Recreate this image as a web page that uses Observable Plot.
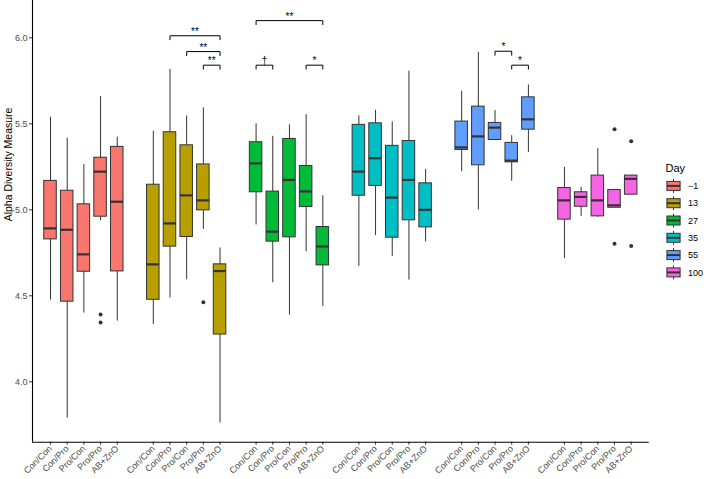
<!DOCTYPE html>
<html><head><meta charset="utf-8">
<script src="https://cdn.jsdelivr.net/npm/d3@7"></script>
<script src="https://cdn.jsdelivr.net/npm/@observablehq/plot@0.6"></script>
<style>
body{margin:0;background:#fff;font-family:"Liberation Sans",Arial,sans-serif;}
#wrap{position:relative;width:709px;height:479px;}
#wrap svg.overlay{position:absolute;left:0;top:0;pointer-events:none;}
</style></head><body><div id="wrap"></div>
<script>
const days = ["-1","13","27","35","55","100"];
const dayLabels = ["\u22121","13","27","35","55","100"];
const treatments = ["Con/Con","Con/Pro","Pro/Con","Pro/Pro","AB+ZnO"];
const colors = ["#F8766D","#B79F00","#00BA38","#00BFC4","#619CFF","#F564E3"];
// per box, day-major order (5 treatments per day)
const whiskerLow = [4.475,3.789,4.400,4.937,4.353, 4.333,4.487,4.594,4.886,3.761, 4.912,4.576,4.388,4.756,4.438, 4.671,4.850,4.729,4.592,4.813, 5.222,4.999,5.406,5.166,5.334, 4.717,4.962,4.956,5.012,5.088];
const q1 =         [4.828,4.466,4.640,4.960,4.642, 4.477,4.786,4.842,4.997,4.275, 5.102,4.815,4.840,5.017,4.677, 5.082,5.139,4.838,4.939,4.898, 5.348,5.259,5.406,5.276,5.466, 4.943,5.018,4.962,5.012,5.088];
const median =     [4.892,4.884,4.741,5.222,5.047, 4.683,4.921,5.084,5.055,4.644, 5.270,4.873,5.174,5.107,4.787, 5.222,5.300,5.071,5.174,5.000, 5.363,5.427,5.478,5.286,5.526, 5.055,5.075,5.055,5.026,5.180];
const q3 =         [5.168,5.111,5.032,5.303,5.366, 5.146,5.451,5.375,5.264,4.683, 5.393,5.106,5.412,5.255,4.900, 5.494,5.503,5.372,5.400,5.154, 5.513,5.600,5.505,5.389,5.654, 5.127,5.102,5.199,5.115,5.199];
const whiskerHigh =[5.538,5.416,5.263,5.658,5.422, 5.457,5.816,5.546,5.593,4.778, 5.500,5.427,5.494,5.554,5.082, 5.546,5.579,5.511,5.806,5.234, 5.689,5.916,5.577,5.431,5.726, 5.247,5.131,5.356,5.115,5.199];
const outlierDay = ["-1","-1","13","100","100","100","100"];
const outlierTrt = ["Pro/Pro","Pro/Pro","Pro/Pro","Pro/Pro","Pro/Pro","AB+ZnO","AB+ZnO"];
const outlierValue = [4.392,4.345,4.462,5.468,4.803,5.398,4.790];
const sigDay = ["13","13","13","27","27","27","55","55"];
const sigFrom = ["Con/Pro","Pro/Con","Pro/Pro","Con/Con","Con/Con","Pro/Pro","Pro/Con","Pro/Pro"];
const sigTo = ["AB+ZnO","AB+ZnO","AB+ZnO","AB+ZnO","Con/Pro","AB+ZnO","Pro/Pro","AB+ZnO"];
const sigY = [6.012,5.920,5.841,6.100,5.841,5.841,5.922,5.841];
const sigLabel = ["**","**","**","**","\u2020","*","*","*"];
const yTicks = [4.0,4.5,5.0,5.5,6.0];

const GAP = 6.161, HALF = 0.375, TIP = 0.023;
const pos = (day, trt) => days.indexOf(day) * GAP + treatments.indexOf(trt);
const boxes = [];
days.forEach((d, di) => treatments.forEach((t, ti) => {
  const i = di * 5 + ti;
  boxes.push({day: d, trt: t, x: pos(d, t), lo: whiskerLow[i], q1: q1[i], med: median[i], q3: q3[i], hi: whiskerHigh[i]});
}));
const outliers = outlierValue.map((v, i) => ({x: pos(outlierDay[i], outlierTrt[i]), y: v}));
const brackets = sigY.map((y, i) => ({x1: pos(sigDay[i], sigFrom[i]), x2: pos(sigDay[i], sigTo[i]), y, label: sigLabel[i], id: i}));
const bracketPts = brackets.flatMap(b => [
  {id: b.id, x: b.x1, y: b.y - TIP}, {id: b.id, x: b.x1, y: b.y},
  {id: b.id, x: b.x2, y: b.y}, {id: b.id, x: b.x2, y: b.y - TIP}]);
const xTicks = boxes.map(b => b.x);
const xLabel = v => { const di = Math.floor((v + 0.5) / GAP); return treatments[Math.round(v - di * GAP)]; };
const xDomain = [-1.08, 5 * GAP + 4 + 1.08];
const yDomain = [3.649, 6.217];

const chart = Plot.plot({
  width: 709, height: 479,
  marginLeft: 32, marginRight: 60.3, marginTop: 0, marginBottom: 37.3,
  style: {fontFamily: "'Liberation Sans', Arial, sans-serif", fontSize: "9px", background: "#fff"},
  x: {domain: xDomain},
  y: {domain: yDomain},
  color: {domain: days, range: colors},
  marks: [
    Plot.ruleX(boxes, {x: "x", y1: "lo", y2: "hi", stroke: "#333", strokeWidth: 1}),
    Plot.rect(boxes, {x1: d => d.x - HALF, x2: d => d.x + HALF, y1: "q1", y2: "q3", fill: "day", stroke: "#333", strokeWidth: 1}),
    Plot.ruleY(boxes, {x1: d => d.x - HALF, x2: d => d.x + HALF, y: "med", stroke: "#333", strokeWidth: 2.2}),
    Plot.dot(outliers, {x: "x", y: "y", r: 2, fill: "#333", stroke: null}),
    Plot.line(bracketPts, {x: "x", y: "y", z: "id", stroke: "#000", strokeWidth: 1}),
    Plot.text(brackets, {x: d => (d.x1 + d.x2) / 2, y: "y", text: "label", lineAnchor: "bottom", dy: -1, fontSize: 10, fill: "#000"}),
    Plot.axisY({ticks: yTicks, tickFormat: d3.format(".1f"), tickSize: 3, tickPadding: 2, fontSize: 9, fill: "#4D4D4D", stroke: "#333", label: null}),
    Plot.axisX({ticks: xTicks, tickFormat: xLabel, tickRotate: -45, tickSize: 3, tickPadding: 2, fontSize: 9, fill: "#4D4D4D", stroke: "#333", label: null}),
    Plot.ruleX([xDomain[0]], {stroke: "#000", strokeWidth: 1.1}),
    Plot.ruleY([yDomain[0]], {stroke: "#000", strokeWidth: 1.1}),
    Plot.text(["Alpha Diversity Measure"], {frameAnchor: "left", rotate: -90, dx: -24, fontSize: 10.5, fill: "#000"})
  ]
});
const wrap = document.getElementById("wrap");
wrap.appendChild(chart);

// legend
const svg = d3.select(wrap).append("svg").attr("class", "overlay").attr("width", 709).attr("height", 479)
  .style("font-family", "'Liberation Sans', Arial, sans-serif");
svg.append("text").attr("x", 665.5).attr("y", 171.5).attr("font-size", 11).attr("fill", "#000").text("Day");
const KEY = 17.3, cx = 673.5;
days.forEach((d, i) => {
  const cy = 185.9 + i * KEY;
  const g = svg.append("g");
  g.append("line").attr("x1", cx).attr("x2", cx).attr("y1", cy - 0.4 * KEY).attr("y2", cy + 0.4 * KEY).attr("stroke", "#333").attr("stroke-width", 1);
  g.append("rect").attr("x", cx - 6.6).attr("y", cy - 4.5).attr("width", 13.2).attr("height", 9).attr("fill", colors[i]).attr("stroke", "#333").attr("stroke-width", 1);
  g.append("line").attr("x1", cx - 6.6).attr("x2", cx + 6.6).attr("y1", cy).attr("y2", cy).attr("stroke", "#333").attr("stroke-width", 2);
  g.append("text").attr("x", 688).attr("y", cy).attr("dy", "0.35em").attr("font-size", 9).attr("fill", "#000").text(dayLabels[i]);
});
</script></body></html>
